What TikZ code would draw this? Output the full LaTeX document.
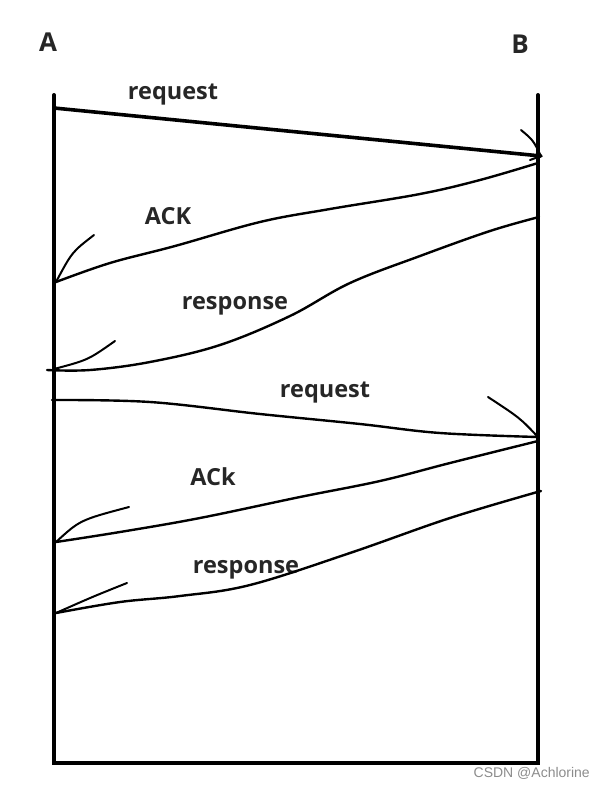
\documentclass[tikz,border=0pt]{standalone}
\usepackage{fontspec}
\setmainfont{Open Sans}
\setsansfont{Liberation Sans}
\usepackage{xcolor}
\tikzset{
    lifeline/.style = {line width=4pt, line cap=round},
    msg/.style = {line width=2.4pt, line cap=round, line join=round},
    tip/.style = {line width=2pt, line cap=round},
    party/.style = {font=\fontsize{26}{30}\selectfont\bfseries, text=black!85},
    msglabel/.style = {font=\fontsize{23.5}{28}\selectfont\bfseries, text=black!85, inner sep=0pt},
    watermark/.style = {font=\sffamily\fontsize{14}{16}\selectfont, text=black!45, inner sep=0pt}
}

\begin{document}
\begin{tikzpicture}[x=1pt, y=-1pt]
    \useasboundingbox (0, 0) rectangle (606, 788);

    \node (partyA) [party] at (48, 42) {A};
    \node (partyB) [party] at (520, 44) {B};

    \coordinate (topA) at (54, 95);
    \coordinate (topB) at (538, 95);
    \coordinate (botA) at (54, 763);
    \coordinate (botB) at (538, 763);

    \draw [lifeline] (topA) -- (botA) -- (botB) -- (topB);

    % end points on the lifelines
    \coordinate (req1A) at (54, 108);
    \coordinate (req1B) at (541, 156);
    \coordinate (ack1B) at (538, 163);
    \coordinate (ack1A) at (56, 282);
    \coordinate (resp1B) at (539, 217);
    \coordinate (resp1A) at (47, 370);
    \coordinate (req2A) at (52, 400);
    \coordinate (req2B) at (538, 437);
    \coordinate (ack2B) at (538, 441);
    \coordinate (ack2A) at (56, 542);
    \coordinate (resp2B) at (541, 491);
    \coordinate (resp2A) at (56, 613);

    \node (req1) [msglabel] at (173, 95) {request};
    \node (ack1) [msglabel] at (168, 216) {ACK};
    \node (resp1) [msglabel] at (235, 306) {response};
    \node (req2) [msglabel] at (325, 393) {request};
    \node (ack2) [msglabel] at (213, 477) {ACk};
    \node (resp2) [msglabel] at (246, 570) {response};

    \draw [msg, line width=3.6pt] (req1A) -- (req1B);
    \draw [tip] (521, 130) .. controls (533, 140) .. (req1B) -- (530, 160);

    \draw [msg] plot[smooth, tension=0.6] coordinates {(ack1B) (480, 180) (420, 194) (330, 209) (260, 222) (175, 246) (110, 263) (ack1A)};
    \draw [tip] (ack1A) .. controls (72, 252) .. (94, 235);

    \draw [msg] plot[smooth, tension=0.6] coordinates {(resp1B) (490, 231) (420, 256) (350, 283) (290, 316) (220, 345) (150, 362) (90, 370) (resp1A)};
    \draw [tip] (54, 369) .. controls (88, 360) .. (115, 341);

    \draw [msg] plot[smooth, tension=0.6] coordinates {(req2A) (150, 402) (260, 414) (360, 424) (440, 433) (req2B)};
    \draw [tip] (488, 397) .. controls (520, 418) .. (req2B);

    \draw [msg] plot[smooth, tension=0.6] coordinates {(ack2B) (450, 463) (380, 481) (300, 497) (200, 518) (120, 532) (ack2A)};
    \draw [tip] (ack2A) .. controls (80, 520) .. (129, 507);

    \draw [msg] plot[smooth, tension=0.6] coordinates {(resp2B) (450, 518) (350, 553) (250, 585) (180, 596) (120, 602) (resp2A)};
    \draw [tip] (resp2A) .. controls (92, 597) .. (127, 583);

    \node (credit) [watermark, anchor=east] at (590, 773) {CSDN @Achlorine};
\end{tikzpicture}
\end{document}
